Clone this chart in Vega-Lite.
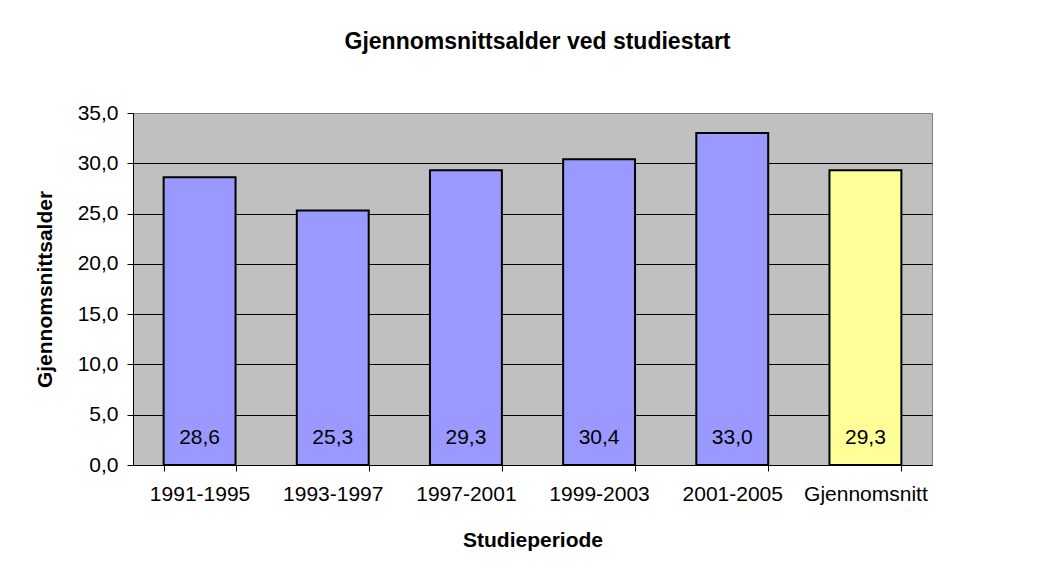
{
  "$schema": "https://vega.github.io/schema/vega-lite/v6.json",
  "width": 799,
  "height": 352,
  "autosize": {"type": "none"},
  "padding": {"left": 133, "top": 113, "right": 109, "bottom": 110},
  "background": "white",
  "config": {
    "locale": {"number": {"decimal": ",", "thousands": " ", "grouping": [3], "currency": ["", " kr"]}},
    "font": "Liberation Sans",
    "view": {"fill": "#C0C0C0", "stroke": "#808080", "strokeWidth": 1}
  },
  "title": {
    "text": "Gjennomsnittsalder ved studiestart",
    "fontSize": 23,
    "fontWeight": "bold",
    "font": "Liberation Sans",
    "anchor": "middle",
    "frame": "group",
    "offset": 48,
    "dx": 5,
    "color": "black"
  },
  "data": {
    "values": [
      {"periode": "1991-1995", "alder": 28.6, "gruppe": "periode"},
      {"periode": "1993-1997", "alder": 25.3, "gruppe": "periode"},
      {"periode": "1997-2001", "alder": 29.3, "gruppe": "periode"},
      {"periode": "1999-2003", "alder": 30.4, "gruppe": "periode"},
      {"periode": "2001-2005", "alder": 33.0, "gruppe": "periode"},
      {"periode": "Gjennomsnitt", "alder": 29.3, "gruppe": "snitt"}
    ]
  },
  "encoding": {
    "x": {
      "field": "periode",
      "type": "nominal",
      "sort": null,
      "scale": {"paddingInner": 0.46, "paddingOuter": 0.23},
      "axis": {
        "title": "Studieperiode",
        "labelAngle": 0,
        "tickBand": "extent",
        "ticks": true,
        "domainColor": "black",
        "tickColor": "black",
        "tickSize": 6,
        "tickWidth": 1,
        "labelFontSize": 21,
        "labelColor": "black",
        "labelPadding": 12,
        "titleFontSize": 21,
        "titleFontWeight": "bold",
        "titleColor": "black",
        "titlePadding": 25
      }
    }
  },
  "layer": [
    {
      "mark": {"type": "bar", "stroke": "black", "strokeWidth": 2},
      "encoding": {
        "y": {
          "field": "alder",
          "type": "quantitative",
          "scale": {"domain": [0, 35], "nice": false},
          "axis": {
            "title": "Gjennomsnittsalder",
            "values": [0, 5, 10, 15, 20, 25, 30, 35],
            "format": ".1f",
            "grid": true,
            "gridColor": {"condition": {"test": "datum.value === 35", "value": "#808080"}, "value": "black"},
            "gridWidth": 1,
            "gridOpacity": 1,
            "domainColor": "black",
            "tickColor": "black",
            "tickSize": 6,
            "labelFontSize": 21,
            "labelColor": "black",
            "labelPadding": 9,
            "titleFontSize": 21,
            "titleFontWeight": "bold",
            "titleColor": "black",
            "titlePadding": 22
          }
        },
        "color": {
          "field": "gruppe",
          "type": "nominal",
          "scale": {"domain": ["periode", "snitt"], "range": ["#9999FF", "#FFFF99"]},
          "legend": null
        }
      }
    },
    {
      "mark": {"type": "text", "fontSize": 21, "color": "black", "baseline": "middle"},
      "encoding": {
        "y": {"datum": 2.7, "type": "quantitative"},
        "text": {"field": "alder", "type": "quantitative", "format": ".1f"}
      }
    }
  ]
}
